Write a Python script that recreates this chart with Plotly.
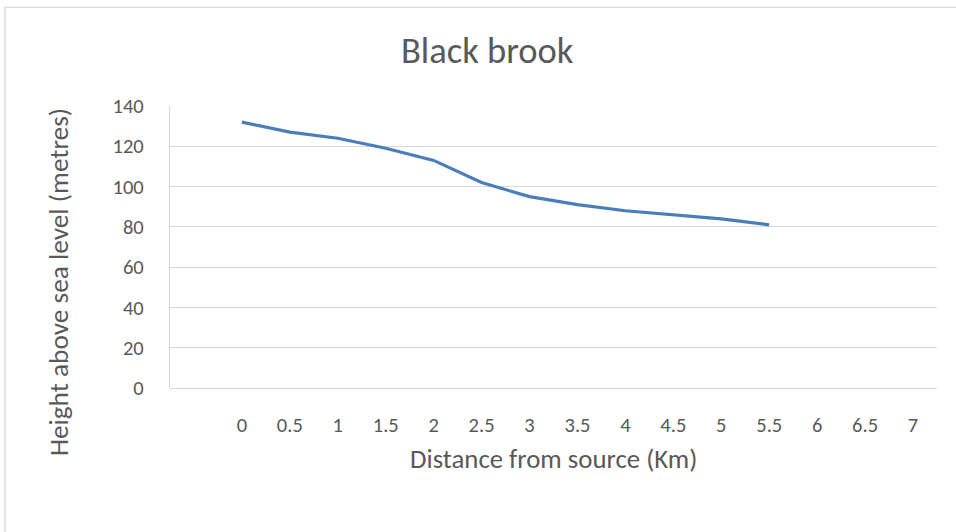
import plotly.graph_objects as go

# ---- data ----
categories = [" ", "0", "0.5", "1", "1.5", "2", "2.5", "3", "3.5", "4", "4.5", "5", "5.5", "6", "6.5", "7"]
distance = ["0", "0.5", "1", "1.5", "2", "2.5", "3", "3.5", "4", "4.5", "5", "5.5"]
height = [132, 127, 124, 119, 113, 102, 95, 91, 88, 86, 84, 81]
y_ticks = [0, 20, 40, 60, 80, 100, 120, 140]

title_text = "Black brook"
x_title = "Distance from source (Km)"
y_title = "Height above sea level (metres)"

FONT = "Carlito, Calibri, Lato, sans-serif"
TXT = "#595959"
GRID = "#d9d9d9"

W, H = 956, 532
L, R, T, B = 170, 19, 105.7, 144  # plot area margins in px
pw = W - L - R
ph = H - T - B

def px_to_paper_x(px):
    return (px - L) / pw

def px_to_paper_y(py):
    return (H - B - py) / ph

fig = go.Figure()
# invisible trace to establish all categories
fig.add_trace(go.Scatter(x=categories, y=[None] * len(categories), mode="lines",
                         showlegend=False, hoverinfo="skip"))
fig.add_trace(go.Scatter(x=distance, y=height, mode="lines",
                         line=dict(color="#4a7ebb", width=3.2),
                         showlegend=False, name="Height"))

fig.update_layout(
    width=W, height=H,
    margin=dict(l=L, r=R, t=T, b=B, pad=0),
    paper_bgcolor="white", plot_bgcolor="white",
    font=dict(family=FONT, color=TXT),
    showlegend=False,
)
fig.update_xaxes(
    type="category", categoryorder="array", categoryarray=categories,
    range=[-0.5, len(categories) - 0.5],
    showgrid=False, zeroline=False, showline=False,
    ticks="", tickfont=dict(size=20.5, color=TXT, family=FONT),
    ticklabelstandoff=22,
)
fig.update_yaxes(
    range=[0, 140], tickvals=y_ticks, ticktext=[str(v) for v in y_ticks],
    showgrid=True, gridcolor=GRID, gridwidth=1.3,
    zeroline=True, zerolinecolor=GRID, zerolinewidth=1.3,
    showline=True, linecolor=GRID, linewidth=1.3,
    ticks="", tickfont=dict(size=20.5, color=TXT, family=FONT),
    ticklabelstandoff=21,
)

# title and axis titles
fig.add_annotation(text=title_text, xref="paper", yref="paper",
                   x=px_to_paper_x(487), y=px_to_paper_y(50),
                   xanchor="center", yanchor="middle", showarrow=False,
                   font=dict(size=36.5, color=TXT, family=FONT))
fig.add_annotation(text=x_title, xref="paper", yref="paper",
                   x=px_to_paper_x(553), y=px_to_paper_y(459),
                   xanchor="center", yanchor="middle", showarrow=False,
                   font=dict(size=26.8, color=TXT, family=FONT))
fig.add_annotation(text=y_title, xref="paper", yref="paper",
                   x=px_to_paper_x(58), y=px_to_paper_y(282),
                   xanchor="center", yanchor="middle", showarrow=False, textangle=-90,
                   font=dict(size=27.3, color=TXT, family=FONT))

# chart border (left and top visible in reference)
fig.add_shape(type="rect", xref="paper", yref="paper",
              x0=px_to_paper_x(5), y0=px_to_paper_y(H + 20),
              x1=px_to_paper_x(W + 20), y1=px_to_paper_y(7),
              line=dict(color=GRID, width=1.3), fillcolor="rgba(0,0,0,0)", layer="below")

fig.write_html("out.html", config={"displayModeBar": False},
               post_script="document.body.style.margin='0';")
